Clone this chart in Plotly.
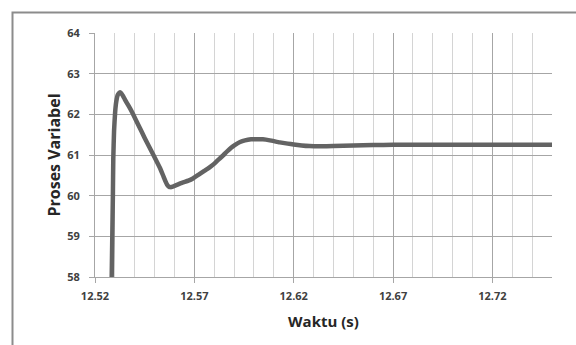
import plotly.graph_objects as go

# Data
time_s = [12.5284, 12.5287, 12.5290, 12.5292, 12.5296, 12.5301, 12.5305, 12.5309, 12.5314,
          12.5320, 12.5326, 12.5332, 12.5340, 12.5350, 12.5370, 12.5390, 12.5420, 12.5450,
          12.5494, 12.5527, 12.5545, 12.5556, 12.5563, 12.5570, 12.5580, 12.5595, 12.5615,
          12.5640, 12.5670, 12.5695, 12.5720, 12.5750, 12.5775, 12.5796, 12.5820, 12.5845,
          12.5863, 12.5885, 12.5905, 12.5930, 12.5955, 12.5985, 12.6015, 12.6045, 12.6080,
          12.6130, 12.6170, 12.6200, 12.6240, 12.6280, 12.6330, 12.6400, 12.6500, 12.6600,
          12.6700, 12.7500]
proses_var = [58.0, 59.0, 60.0, 60.9, 61.6, 62.03, 62.24, 62.37, 62.47,
              62.52, 62.54, 62.52, 62.46, 62.37, 62.2, 62.02, 61.72, 61.42,
              61.0, 60.68, 60.47, 60.34, 60.27, 60.23, 60.21, 60.23, 60.27,
              60.32, 60.37, 60.43, 60.51, 60.61, 60.69, 60.77, 60.88, 60.99,
              61.08, 61.18, 61.25, 61.32, 61.36, 61.385, 61.39, 61.385, 61.36,
              61.31, 61.28, 61.26, 61.235, 61.22, 61.215, 61.22, 61.235, 61.245,
              61.25, 61.25]

x_major_ticks = [12.52, 12.57, 12.62, 12.67, 12.72]
x_tick_labels = ["12.52", "12.57", "12.62", "12.67", "12.72"]
y_ticks = [58, 59, 60, 61, 62, 63, 64]

fig = go.Figure()
fig.add_trace(go.Scatter(
    x=time_s, y=proses_var, mode="lines",
    line=dict(color="#636363", width=4.5, shape="spline", smoothing=0.4),
    showlegend=False, hoverinfo="skip",
))

L, R, T, B = 95, 24, 33, 68
W, H = 576, 345
pw, ph = W - L - R, H - T - B

fig.update_layout(
    width=W, height=H,
    margin=dict(l=L, r=R, t=T, b=B, pad=0),
    paper_bgcolor="white", plot_bgcolor="white",
    font=dict(family="Open Sans", color="#404040"),
    xaxis=dict(
        range=[12.52, 12.75], tickmode="array", tickvals=x_major_ticks, ticktext=x_tick_labels,
        showgrid=True, gridcolor="#a6a6a6", gridwidth=1,
        minor=dict(dtick=0.01, tick0=12.52, showgrid=True, gridcolor="#d4d4d4", gridwidth=1, ticks=""),
        ticks="outside", ticklen=5, tickcolor="#a6a6a6", ticklabelstandoff=4,
        showline=True, linecolor="#a6a6a6", linewidth=1,
        tickfont=dict(size=11, family="Open Sans", weight="bold", color="#404040"),
        title=dict(text="Waktu (s)", font=dict(size=15, family="Open Sans", weight="bold", color="#262626"),
                   standoff=14),
        zeroline=False,
    ),
    yaxis=dict(
        range=[58, 64], tickmode="array", tickvals=y_ticks,
        showgrid=True, gridcolor="#a6a6a6", gridwidth=1,
        ticks="outside", ticklen=5, tickcolor="#a6a6a6", ticklabelstandoff=7,
        showline=True, linecolor="#a6a6a6", linewidth=1,
        tickfont=dict(size=11, family="Open Sans", weight="bold", color="#404040"),
        title=dict(text="Proses Variabel", font=dict(size=16, family="Open Sans", weight="bold", color="#262626"),
                   standoff=2),
        zeroline=False,
    ),
)

# outer chart frame (left and top edges visible)
fx0 = (12.5 - L) / pw
fy_top = 1 + (T - 12.5) / ph
fx1 = (W + 5 - L) / pw
fy_bot = -(H + 5 - (H - B)) / ph
fig.add_shape(type="path", xref="paper", yref="paper",
              path=f"M {fx0} {fy_bot} L {fx0} {fy_top} L {fx1} {fy_top}",
              line=dict(color="#8c8c8c", width=2), layer="below")

fig.write_html("out.html")
